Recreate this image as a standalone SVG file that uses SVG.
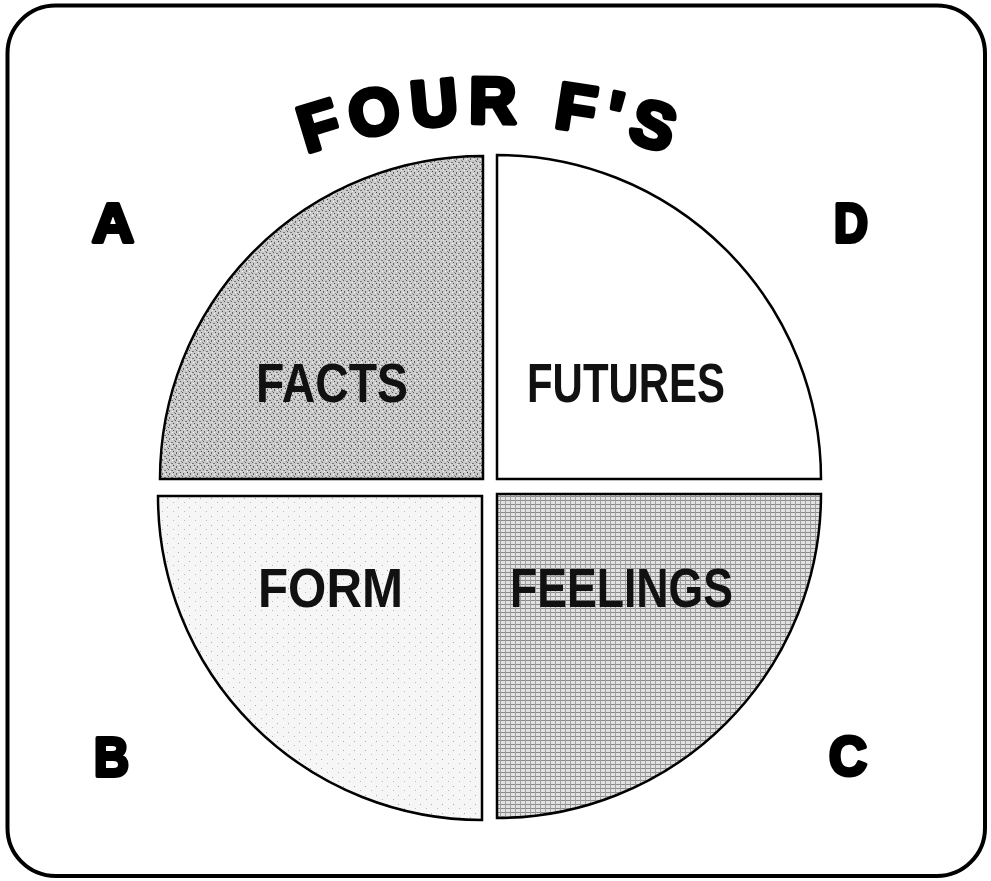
<svg xmlns="http://www.w3.org/2000/svg" width="991" height="881" viewBox="0 0 991 881">
<style>
.q{stroke:#000;stroke-width:2.5;stroke-linejoin:miter}
.lbl{font-family:"Liberation Sans",Arial,sans-serif;font-weight:bold;font-size:55px;fill:#111;text-anchor:start}
.corner{font-family:"Liberation Sans",Arial,sans-serif;font-weight:bold;font-size:55px;fill:#000;stroke:#000;stroke-width:4;stroke-linejoin:round}
.title{font-family:"Liberation Sans",Arial,sans-serif;font-weight:bold;font-size:65px;fill:#000;stroke:#000;stroke-width:5;stroke-linejoin:round}
</style>
<defs>
<pattern id="pTL" width="7" height="7" patternUnits="userSpaceOnUse">
<rect width="7" height="7" fill="#cacaca"/>
<rect x="0" y="0" width="1" height="1" fill="#555"/>
<rect x="3" y="1" width="2" height="1" fill="#777"/>
<rect x="5" y="3" width="1" height="1" fill="#444"/>
<rect x="1" y="4" width="1" height="2" fill="#666"/>
<rect x="4" y="5" width="1" height="1" fill="#fff"/>
<rect x="2" y="2" width="1" height="1" fill="#eee"/>
<rect x="6" y="6" width="1" height="1" fill="#888"/>
</pattern>
<pattern id="pBR" width="5" height="4" patternUnits="userSpaceOnUse">
<rect width="5" height="4" fill="#e2e2e2"/>
<rect x="0" y="0" width="5" height="1" fill="#8a8a8a"/>
<rect x="0" y="0" width="1" height="4" fill="#a0a0a0"/>
</pattern>
<pattern id="pBL" width="11" height="9" patternUnits="userSpaceOnUse">
<rect width="11" height="9" fill="#f6f6f6"/>
<rect x="2" y="3" width="1" height="1" fill="#aaa"/>
<rect x="8" y="7" width="1" height="1" fill="#bbb"/>
</pattern>
</defs>
<rect id="frame" x="7.5" y="5.5" width="977.5" height="870.5" rx="48" ry="48" fill="#fff" stroke="#000" stroke-width="4"/>
<g id="title">
<path id="arc" d="M 287 160 A 560 560 0 0 1 687 160" fill="none"/>
<text class="title"><textPath href="#arc" startOffset="50%" text-anchor="middle" textLength="368" lengthAdjust="spacing">FOUR F'S</textPath></text>
</g>
<g id="facts">
<path class="q" fill="url(#pTL)" d="M483,479 L160,479 A323,323 0 0 1 483,156 Z"/>
<text class="lbl" x="256" y="402" textLength="152" lengthAdjust="spacingAndGlyphs">FACTS</text>
</g>
<g id="futures">
<path class="q" fill="#fff" d="M497,479 L497,155 A324,324 0 0 1 821,479 Z"/>
<text class="lbl" x="527" y="402" textLength="198" lengthAdjust="spacingAndGlyphs">FUTURES</text>
</g>
<g id="form">
<path class="q" fill="url(#pBL)" d="M482,496 L482,820 A324,324 0 0 1 158,496 Z"/>
<text class="lbl" x="258" y="607" textLength="145" lengthAdjust="spacingAndGlyphs">FORM</text>
</g>
<g id="feelings">
<path class="q" fill="url(#pBR)" d="M497,494 L821,494 A324,324 0 0 1 497,818 Z"/>
<text class="lbl" x="510" y="607" textLength="223" lengthAdjust="spacingAndGlyphs">FEELINGS</text>
</g>
<g id="corner-a"><text class="corner" x="92" y="242" textLength="42" lengthAdjust="spacingAndGlyphs">A</text></g>
<g id="corner-d"><text class="corner" x="834" y="242" textLength="34" lengthAdjust="spacingAndGlyphs">D</text></g>
<g id="corner-b"><text class="corner" x="94" y="776" textLength="35" lengthAdjust="spacingAndGlyphs">B</text></g>
<g id="corner-c"><text class="corner" x="829" y="775" textLength="38" lengthAdjust="spacingAndGlyphs">C</text></g>
<g id="connectors"></g>
</svg>
